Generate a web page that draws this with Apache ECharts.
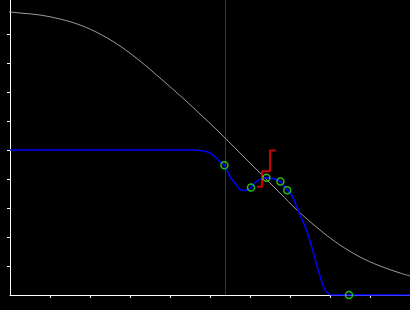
<!DOCTYPE html>
<html>
<head>
<meta charset="utf-8">
<script src="https://cdn.jsdelivr.net/npm/echarts@6/dist/echarts.min.js"></script>
<style>
html,body{margin:0;padding:0;background:#000;}
#chart{width:410px;height:310px;}
</style>
</head>
<body>
<div id="chart"></div>
<script>
// Gray reference curve
var grayX = [-0.25, 0.25, 0.75, 1.25, 1.75, 2.25, 2.75, 3.25, 3.75, 4.375, 4.75, 5.175, 5.75, 6.25, 6.75, 7.175, 7.75, 8.25, 8.75, 9.25, 9.75, 10.0];
var grayY = [9.793, 9.724, 9.655, 9.517, 9.310, 9.0, 8.586, 8.069, 7.483, 6.724, 6.241, 5.690, 4.897, 4.207, 3.517, 2.931, 2.241, 1.724, 1.310, 1.0, 0.759, 0.655];
// Blue curve
var blueX = [0, 4.6, 4.875, 5.0, 5.125, 5.25, 5.36, 5.5, 5.625, 5.75, 5.875, 6.025, 6.15, 6.3, 6.41, 6.6, 6.76, 6.93, 7.04, 7.25, 7.4, 7.55, 7.675, 7.75, 7.85, 7.95, 8.05, 10.0];
var blueY = [5.0, 5.0, 4.955, 4.90, 4.76, 4.60, 4.47, 4.08, 3.86, 3.64, 3.60, 3.71, 3.90, 4.02, 4.04, 4.0, 3.91, 3.61, 3.45, 2.76, 2.28, 1.62, 1.0, 0.66, 0.24, 0.05, 0.0, 0.0];
// Green markers
var markX = [5.36, 6.025, 6.41, 6.76, 6.93, 8.475];
var markY = [4.47, 3.71, 4.04, 3.91, 3.61, 0.0];
// Red step line
var redX = [6.175, 6.3, 6.5, 6.65];
var redY = [3.73, 4.27, 4.98, 4.98];
// Vertical line position
var vLineX = 5.3875;
// Axis settings
var xMin = 0, xMax = 10;
var yMin = 0, yMax = 10.172;
var tickValues = [1, 2, 3, 4, 5, 6, 7, 8, 9];

function pairs(xs, ys){ return xs.map(function(x,i){ return [x, ys[i]]; }); }

var chart = echarts.init(document.getElementById('chart'), null, {renderer:'canvas'});
chart.setOption({
  animation: false,
  backgroundColor: '#000000',
  grid: {left: 10, right: 0, top: 0, bottom: 15, containLabel: false},
  xAxis: {
    type: 'value', min: xMin, max: xMax,
    axisLine: {show: true, lineStyle: {color: '#ffffff', width: 1}},
    axisTick: {show: true, length: 3, inside: false, customValues: tickValues, lineStyle: {color: '#ffffff', width: 1}},
    axisLabel: {show: false},
    splitLine: {show: false}
  },
  yAxis: {
    type: 'value', min: yMin, max: yMax,
    axisLine: {show: true, lineStyle: {color: '#ffffff', width: 1}},
    axisTick: {show: true, length: 3, inside: false, customValues: tickValues, lineStyle: {color: '#ffffff', width: 1}},
    axisLabel: {show: false},
    splitLine: {show: false}
  },
  series: [
    {
      type: 'line', data: [[vLineX, yMin], [vLineX, yMax]],
      symbol: 'none', clip: false, z: 1,
      lineStyle: {color: '#800080', width: 1}
    },
    {
      type: 'line', data: pairs(grayX, grayY), smooth: 0.35,
      symbol: 'none', clip: false, z: 2,
      lineStyle: {color: '#9a9a9a', width: 1}
    },
    {
      type: 'line', data: pairs(blueX, blueY), smooth: 0.4,
      symbol: 'none', clip: false, z: 3,
      lineStyle: {color: '#0000ff', width: 1.5}
    },
    {
      type: 'line', data: pairs(redX, redY), step: 'end',
      symbol: 'none', z: 4,
      lineStyle: {color: '#cc0000', width: 2}
    },
    {
      type: 'scatter', data: pairs(markX, markY), clip: false,
      symbol: 'circle', symbolSize: 7, z: 5,
      itemStyle: {color: 'rgba(0,0,0,0)', borderColor: '#22ee22', borderWidth: 1.5}
    }
  ]
});
</script>
</body>
</html>
